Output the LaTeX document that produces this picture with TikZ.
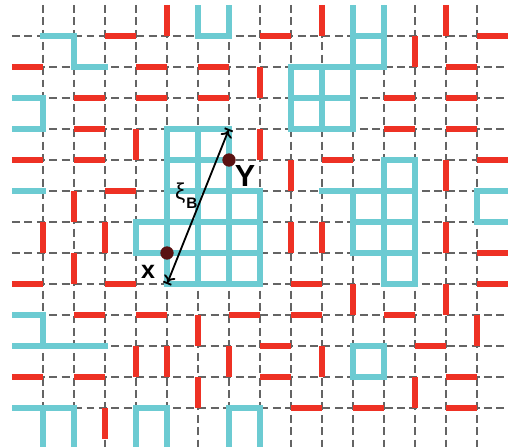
\documentclass[tikz,border=0pt]{standalone}
\usepackage{fontspec}
\setmainfont{Liberation Sans}
\usetikzlibrary{arrows.meta}
\definecolor{bondred}{RGB}{238,49,36}
\definecolor{bondcyan}{RGB}{108,203,210}
\definecolor{sitered}{RGB}{90,18,18}
\definecolor{latgray}{RGB}{100,100,100}
\begin{document}
\begin{tikzpicture}[x = 1cm, y = -1cm,
		lattice/.style = {latgray, line width = 2.2pt, dash pattern = on 7.3pt off 4.1pt},
		redbond/.style = {bondred, line width = 5.6pt},
		bluebond/.style = {bondcyan, line width = 6pt, line cap = rect},
		site/.style = {circle, fill = sitered, inner sep = 0pt, minimum size = 0.43cm}]
		\useasboundingbox (-0.387,-0.161) rectangle (16,14.258);
		% dashed lattice
		\foreach \r in {1,...,13}
			\draw [lattice] (0,\r) -- (16,\r);
		\foreach \c in {1,...,15}
			\draw [lattice] (\c,0) -- (\c,14.3);
		% red bonds, horizontal then vertical
		\foreach \c/\r in {3/1, 8/1, 15/1, 0/2, 4/2, 6/2, 14/2, 2/3, 4/3, 6/3, 12/3, 14/3,
				2/4, 12/4, 14/4, 0/5, 2/5, 10/5, 15/5, 3/6, 15/8, 0/9, 3/9, 9/9, 15/9,
				2/10, 4/10, 7/10, 9/10, 12/10, 8/11, 13/11, 0/12, 2/12, 8/12, 14/12,
				9/13, 11/13, 14/13}
			\draw [redbond] (\c,\r) -- ++(1,0);
		\foreach \c/\r in {5/0, 10/0, 14/0, 13/1, 8/2, 4/4, 8/4, 9/5, 14/5, 2/6,
				1/7, 3/7, 9/7, 10/7, 14/7, 2/8, 11/9, 14/9, 6/10, 15/10,
				4/11, 5/11, 7/11, 10/11, 6/12, 13/12, 3/13}
			\draw [redbond] (\c,\r) -- ++(0,1);
		% cyan clusters
		\draw [bluebond] (1,1) -- (2,1) -- (2,2) -- (3,2);
		\draw [bluebond] (6,0.1) -- (6,1) -- (7,1) -- (7,0.1);
		\draw [bluebond] (0.1,3) -- (1,3) -- (1,4) -- (0.1,4);
		\draw [bluebond] (9,2) grid (11,4) (11,0.1) -- (11,2) (12,0.1) -- (12,2) -- (11,2) (11,1) -- (12,1);
		\draw [bluebond] (5,4) grid (7,9) (7,6) grid (8,9) (4,7) grid (5,8);
		\draw [bluebond] (0.1,6) -- (1,6);
		\draw [bluebond] (12,5) grid (13,9) (11,6) grid (12,8) (10,6) -- (11,6);
		\draw [bluebond] (16,6) -- (15,6) -- (15,7) -- (16,7);
		\draw [bluebond] (0.1,10) -- (1,10) -- (1,11) (0.1,11) -- (3,11);
		\draw [bluebond] (11,11) rectangle (12,12);
		\draw [bluebond] (0.1,13) -- (2,13) -- (2,14.3) (1,13) -- (1,14.3);
		\draw [bluebond] (4,14.3) -- (4,13) -- (5,13) -- (5,14.3);
		\draw [bluebond] (7,14.3) -- (7,13) -- (8,13) -- (8,14.3);
		% correlation length
		\coordinate (topend) at (7,4);
		\coordinate (botend) at (5,9);
		\draw [{Bar[width = 8pt]To[length = 6pt, width = 11pt]}-{To[length = 6pt, width = 11pt]Bar[width = 8pt]}, line width = 1.7pt] (topend) -- (botend);
		\node [site] (Y) at (7,5) {};
		\node [site] (X) at (5,8) {};
		\node [font = \bfseries\fontsize{28}{28}\selectfont] (Ylabel) at (7.52,5.52) {Y};
		\node [font = \bfseries\fontsize{23}{23}\selectfont] (Xlabel) at (4.39,8.6) {x};
		\node [font = \fontsize{21}{21}\selectfont, inner sep = 0pt] (xi) at (5.43,6.08) {ξ};
		\node [font = \bfseries\fontsize{14}{14}\selectfont, inner sep = 0pt] (xisub) at (5.8,6.4) {B};
\end{tikzpicture}
\end{document}
